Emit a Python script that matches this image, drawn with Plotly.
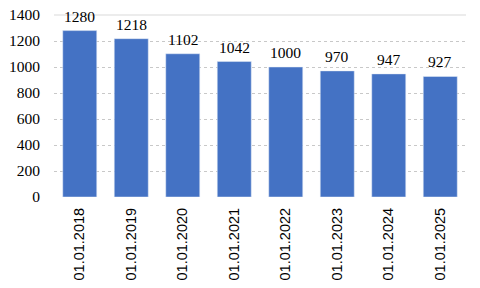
import plotly.graph_objects as go

categories = ["01.01.2018", "01.01.2019", "01.01.2020", "01.01.2021",
              "01.01.2022", "01.01.2023", "01.01.2024", "01.01.2025"]
values = [1280, 1218, 1102, 1042, 1000, 970, 947, 927]

SERIF = "Liberation Serif, Times New Roman, serif"

fig = go.Figure(go.Bar(
    x=categories, y=values,
    marker_color="#4472C4",
))

for c, v in zip(categories, values):
    fig.add_annotation(
        x=c, y=v, xref="x", yref="y", text=str(v), showarrow=False,
        yanchor="bottom", yshift=4,
        font=dict(family=SERIF, size=15.5, color="#000000"),
    )

fig.update_layout(
    width=480, height=288,
    margin=dict(l=54, r=14, t=15, b=91, autoexpand=False),
    paper_bgcolor="white", plot_bgcolor="white",
    bargap=0.34,
    showlegend=False,
    shapes=[dict(type="line", xref="paper", yref="y domain", x0=0, x1=1, y0=1, y1=1,
                 line=dict(color="#d9d9d9", width=1))],
)
fig.update_yaxes(
    range=[0, 1400], dtick=200, automargin=False,
    showgrid=True, gridcolor="#c8c8c8", griddash="dot", gridwidth=1,
    zeroline=False,
    tickfont=dict(family=SERIF, size=15.5, color="#000000"),
    ticks="", ticklabelstandoff=13,
)
fig.update_xaxes(
    tickangle=-90, automargin=False,
    tickfont=dict(family="Liberation Sans, Arial, sans-serif", size=14.5, color="#000000"),
    showline=False, ticks="", ticklabelstandoff=7,
)

fig.write_html("out.html")
